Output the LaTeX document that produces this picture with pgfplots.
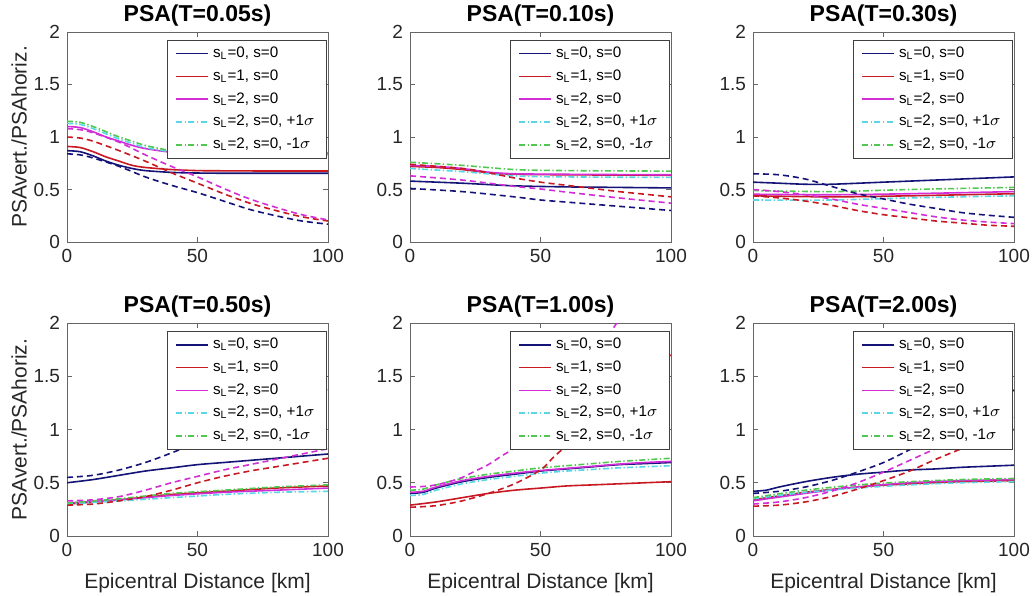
\documentclass[border=0pt]{standalone}
\usepackage{pgfplots}
\pgfplotsset{compat=1.18}
\usepackage{fontspec}
\setmainfont{Liberation Sans}
\definecolor{mblue}{RGB}{20,20,120}
\definecolor{mred}{RGB}{200,25,35}
\definecolor{mmag}{RGB}{210,45,215}
\definecolor{mcyan}{RGB}{90,215,230}
\definecolor{mgreen}{RGB}{80,200,80}
\pgfplotsset{
  sb/.style={mblue, solid, line width=0.8pt, smooth},
  sr/.style={mred, solid, line width=0.8pt, smooth},
  sm/.style={mmag, solid, line width=0.8pt, smooth},
  sc/.style={mcyan, line width=0.8pt, smooth, dash pattern=on 3pt off 1.2pt on 0.7pt off 1.2pt},
  sg/.style={mgreen, line width=0.8pt, smooth, dash pattern=on 3pt off 1.2pt on 0.7pt off 1.2pt},
  db/.style={mblue, line width=0.8pt, smooth, dash pattern=on 3pt off 2pt},
  dr/.style={mred, line width=0.8pt, smooth, dash pattern=on 3pt off 2pt},
  dm/.style={mmag, line width=0.8pt, smooth, dash pattern=on 3pt off 2pt},
  psa/.style={
    scale only axis, width=130.5pt, anchor=south west,
    xmin=0, xmax=100, ymin=0, ymax=2,
    xtick={0,50,100}, ytick={0,0.5,1,1.5,2},
    tick align=inside, tick pos=both, major tick length=2.5pt,
    axis line style={black!60}, tick style={black!60, line width=0.4pt},
    ticklabel style={font=\fontsize{9.5}{11}\selectfont, text=black!85},
    /pgf/number format/assume math mode=true,
    title style={font=\bfseries\fontsize{11.5}{13}\selectfont, yshift=-6.5pt},
    label style={font=\fontsize{10.5}{12}\selectfont, text=black!85},
    ylabel shift=-3.5pt, xlabel shift=1.5pt,
    legend style={at={(0.995,0.962)}, anchor=north east, draw=black!75, fill=white,
      font=\fontsize{7.6}{8.6}\selectfont, inner xsep=4pt, inner ysep=1.2pt, row sep=0.6pt,
      cells={anchor=west}},
    legend image code/.code={\draw[#1] (0pt,0pt) -- (16pt,0pt);},
    legend entries={{s\textsubscript{L}=0, s=0},{s\textsubscript{L}=1, s=0},{s\textsubscript{L}=2, s=0},{s\textsubscript{L}=2, s=0, +1$\sigma$},{s\textsubscript{L}=2, s=0, -1$\sigma$}},
  },
}
\begin{document}
\begin{tikzpicture}
\useasboundingbox (0,0) rectangle (516.5pt,-297.5pt);
% ---------- T=0.05
\begin{axis}[psa, at={(33.5pt,-121pt)}, height=105pt, title={PSA(T=0.05s)}, ylabel={PSAvert./PSAhoriz.}]
\addplot[sb] coordinates {(0,0.87)(5,0.86)(10,0.82)(15,0.77)(20,0.73)(25,0.70)(30,0.68)(40,0.663)(50,0.657)(60,0.655)(80,0.655)(100,0.655)};
\addplot[sr] coordinates {(0,0.91)(5,0.90)(10,0.86)(15,0.81)(20,0.77)(25,0.73)(30,0.71)(40,0.69)(50,0.68)(60,0.678)(80,0.676)(100,0.676)};
\addplot[sm] coordinates {(0,1.10)(5,1.09)(10,1.05)(15,1.00)(20,0.96)(25,0.92)(30,0.89)(40,0.855)(50,0.845)(60,0.84)(80,0.84)(100,0.84)};
\addplot[sc] coordinates {(0,1.13)(5,1.12)(10,1.08)(15,1.03)(20,0.98)(25,0.94)(30,0.90)(40,0.86)(50,0.845)(60,0.838)(80,0.835)(100,0.83)};
\addplot[sg] coordinates {(0,1.15)(5,1.14)(10,1.10)(15,1.05)(20,1.00)(25,0.96)(30,0.92)(40,0.87)(50,0.857)(60,0.852)(80,0.85)(100,0.85)};
\addplot[db, forget plot] coordinates {(0,0.84)(5,0.83)(10,0.80)(20,0.72)(30,0.62)(40,0.54)(50,0.47)(60,0.39)(70,0.31)(80,0.25)(90,0.20)(100,0.17)};
\addplot[dr, forget plot] coordinates {(0,1.0)(5,0.99)(10,0.96)(20,0.87)(30,0.77)(40,0.66)(50,0.56)(60,0.46)(70,0.37)(80,0.30)(90,0.24)(100,0.20)};
\addplot[dm, forget plot] coordinates {(0,1.08)(5,1.07)(10,1.04)(20,0.95)(30,0.83)(40,0.72)(50,0.62)(60,0.51)(70,0.41)(80,0.33)(90,0.26)(100,0.21)};
\end{axis}
% ---------- T=0.10
\begin{axis}[psa, at={(205pt,-121pt)}, height=105pt, title={PSA(T=0.10s)}]
\addplot[sb] coordinates {(0,0.58)(20,0.56)(40,0.535)(60,0.525)(80,0.52)(100,0.515)};
\addplot[sr] coordinates {(0,0.72)(10,0.71)(20,0.69)(30,0.66)(40,0.645)(60,0.64)(100,0.635)};
\addplot[sm] coordinates {(0,0.73)(10,0.72)(20,0.70)(30,0.665)(40,0.65)(60,0.645)(100,0.64)};
\addplot[sc] coordinates {(0,0.70)(20,0.67)(40,0.63)(60,0.62)(100,0.615)};
\addplot[sg] coordinates {(0,0.76)(20,0.73)(40,0.69)(60,0.68)(100,0.675)};
\addplot[db, forget plot] coordinates {(0,0.51)(20,0.48)(40,0.43)(50,0.40)(60,0.38)(80,0.34)(100,0.30)};
\addplot[dr, forget plot] coordinates {(0,0.74)(20,0.70)(30,0.66)(40,0.61)(50,0.57)(60,0.54)(70,0.51)(80,0.48)(90,0.455)(100,0.43)};
\addplot[dm, forget plot] coordinates {(0,0.63)(20,0.59)(40,0.53)(50,0.505)(60,0.475)(80,0.42)(100,0.37)};
\end{axis}
% ---------- T=0.30
\begin{axis}[psa, at={(376.5pt,-121pt)}, height=105pt, title={PSA(T=0.30s)}]
\addplot[sb] coordinates {(0,0.57)(10,0.56)(20,0.55)(30,0.55)(50,0.57)(70,0.59)(100,0.62)};
\addplot[sr] coordinates {(0,0.44)(30,0.43)(60,0.44)(100,0.46)};
\addplot[sm] coordinates {(0,0.455)(30,0.45)(60,0.46)(100,0.48)};
\addplot[sc] coordinates {(0,0.40)(30,0.40)(60,0.42)(100,0.44)};
\addplot[sg] coordinates {(0,0.49)(30,0.48)(60,0.50)(100,0.52)};
\addplot[db, forget plot] coordinates {(0,0.65)(10,0.64)(20,0.60)(30,0.53)(40,0.46)(50,0.41)(60,0.36)(70,0.32)(80,0.28)(90,0.255)(100,0.235)};
\addplot[dr, forget plot] coordinates {(0,0.44)(10,0.42)(20,0.39)(30,0.35)(40,0.30)(50,0.26)(60,0.23)(70,0.20)(80,0.18)(90,0.16)(100,0.15)};
\addplot[dm, forget plot] coordinates {(0,0.50)(10,0.48)(20,0.45)(30,0.41)(40,0.36)(50,0.32)(60,0.28)(70,0.24)(80,0.21)(90,0.19)(100,0.175)};
\end{axis}
% ---------- T=0.50
\begin{axis}[psa, at={(33.5pt,-268pt)}, height=106.5pt, title={PSA(T=0.50s)}, ylabel={PSAvert./PSAhoriz.}, xlabel={Epicentral Distance [km]}]
\addplot[sb] coordinates {(0,0.50)(10,0.53)(20,0.57)(30,0.61)(40,0.64)(50,0.67)(60,0.69)(70,0.71)(80,0.73)(90,0.75)(100,0.77)};
\addplot[sr] coordinates {(0,0.30)(20,0.34)(40,0.39)(60,0.42)(80,0.45)(100,0.47)};
\addplot[sm] coordinates {(0,0.31)(20,0.34)(40,0.38)(60,0.41)(80,0.43)(100,0.45)};
\addplot[sc] coordinates {(0,0.30)(20,0.33)(40,0.36)(60,0.39)(80,0.41)(100,0.42)};
\addplot[sg] coordinates {(0,0.31)(20,0.35)(40,0.40)(60,0.43)(80,0.46)(100,0.48)};
\addplot[db, forget plot] coordinates {(0,0.55)(10,0.57)(20,0.62)(30,0.69)(40,0.78)(50,0.88)(60,0.98)(70,1.08)(80,1.18)(90,1.28)(100,1.38)};
\addplot[dr, forget plot] coordinates {(0,0.29)(10,0.30)(20,0.33)(30,0.37)(40,0.43)(50,0.50)(60,0.56)(70,0.61)(80,0.65)(90,0.69)(100,0.73)};
\addplot[dm, forget plot] coordinates {(0,0.33)(10,0.34)(20,0.37)(30,0.43)(40,0.50)(50,0.56)(60,0.62)(70,0.67)(80,0.72)(90,0.77)(100,0.82)};
\end{axis}
% ---------- T=1.00
\begin{axis}[psa, at={(205pt,-268pt)}, height=106.5pt, title={PSA(T=1.00s)}, xlabel={Epicentral Distance [km]}]
\addplot[sb] coordinates {(0,0.40)(5,0.41)(10,0.45)(20,0.51)(30,0.55)(40,0.58)(50,0.61)(60,0.63)(70,0.65)(80,0.67)(90,0.68)(100,0.69)};
\addplot[sr] coordinates {(0,0.29)(10,0.32)(20,0.36)(30,0.40)(40,0.43)(50,0.45)(60,0.47)(70,0.48)(80,0.49)(90,0.50)(100,0.51)};
\addplot[sm] coordinates {(0,0.41)(5,0.42)(10,0.46)(20,0.52)(30,0.56)(40,0.59)(50,0.615)(60,0.635)(70,0.655)(80,0.675)(90,0.69)(100,0.70)};
\addplot[sc] coordinates {(0,0.38)(5,0.39)(10,0.43)(20,0.49)(30,0.53)(40,0.56)(50,0.59)(60,0.61)(70,0.625)(80,0.64)(90,0.65)(100,0.66)};
\addplot[sg] coordinates {(0,0.43)(5,0.44)(10,0.48)(20,0.54)(30,0.58)(40,0.61)(50,0.64)(60,0.66)(70,0.68)(80,0.70)(90,0.715)(100,0.73)};
\addplot[dr, forget plot] coordinates {(0,0.27)(10,0.285)(20,0.33)(30,0.40)(40,0.49)(50,0.62)(55,0.74)(60,0.85)(70,1.07)(80,1.28)(90,1.49)(100,1.70)};
\addplot[dm, forget plot] coordinates {(0,0.46)(5,0.465)(10,0.48)(15,0.51)(20,0.55)(25,0.61)(30,0.67)(35,0.75)(40,0.83)(50,1.06)(60,1.33)(70,1.65)(76,1.88)(80,2.03)(85,2.22)};
\end{axis}
% ---------- T=2.00
\begin{axis}[psa, at={(376.5pt,-268pt)}, height=106.5pt, title={PSA(T=2.00s)}, xlabel={Epicentral Distance [km]}]
\addplot[sb] coordinates {(0,0.42)(5,0.43)(10,0.46)(20,0.51)(30,0.55)(40,0.58)(50,0.60)(60,0.62)(70,0.63)(80,0.645)(90,0.655)(100,0.665)};
\addplot[sr] coordinates {(0,0.34)(20,0.41)(40,0.46)(60,0.49)(80,0.51)(100,0.52)};
\addplot[sm] coordinates {(0,0.33)(20,0.40)(40,0.46)(60,0.50)(80,0.52)(100,0.53)};
\addplot[sc] coordinates {(0,0.35)(20,0.41)(40,0.45)(60,0.48)(80,0.50)(100,0.51)};
\addplot[sg] coordinates {(0,0.36)(20,0.43)(40,0.48)(60,0.51)(80,0.53)(100,0.54)};
\addplot[db, forget plot] coordinates {(0,0.40)(10,0.42)(20,0.46)(30,0.52)(40,0.60)(50,0.69)(60,0.81)(70,0.93)(80,1.06)(90,1.21)(100,1.37)};
\addplot[dr, forget plot] coordinates {(0,0.28)(10,0.29)(20,0.32)(30,0.37)(40,0.44)(50,0.52)(60,0.61)(70,0.72)(80,0.82)(90,0.91)(100,1.0)};
\addplot[dm, forget plot] coordinates {(0,0.30)(10,0.32)(20,0.36)(30,0.42)(40,0.50)(50,0.60)(60,0.71)(70,0.82)(80,0.92)(90,1.02)(100,1.12)};
\end{axis}
\end{tikzpicture}
\end{document}
